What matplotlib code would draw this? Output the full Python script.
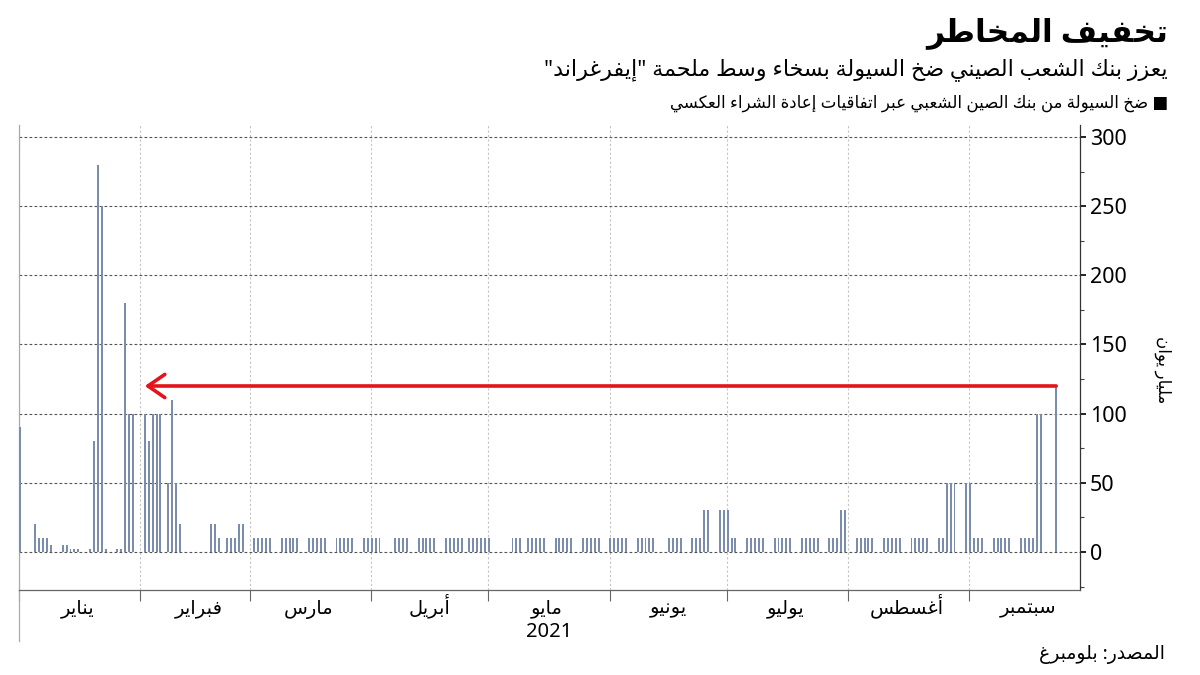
import numpy as np
import pandas as pd
import matplotlib
matplotlib.use('Agg')
import matplotlib.pyplot as plt
import matplotlib.dates as mdates
from matplotlib.ticker import MultipleLocator, FixedLocator, NullFormatter, FixedFormatter

# PBOC reverse repo injections, billion yuan, by day of month (2020-12 / 2021)
dec_days = [31]
dec_vals = [90]
jan_days = [4, 5, 6, 7, 8, 11, 12, 13, 14, 15, 18, 19, 20, 21, 22, 25, 26, 27, 28, 29]
jan_vals = [20, 10, 10, 10, 5, 5, 5, 2, 2, 2, 2, 80, 280, 250, 2, 2, 2, 180, 100, 100]
feb_days = [1, 2, 3, 4, 5, 7, 8, 9, 10, 18, 19, 20, 22, 23, 24, 25, 26]
feb_vals = [100, 80, 100, 100, 100, 50, 110, 50, 20, 20, 20, 10, 10, 10, 10, 20, 20]
mar_days = [1, 2, 3, 4, 5, 8, 9, 10, 11, 12, 15, 16, 17, 18, 19, 22, 23, 24, 25, 26, 29, 30, 31]
mar_vals = [10, 10, 10, 10, 10, 10, 10, 10, 10, 10, 10, 10, 10, 10, 10, 10, 10, 10, 10, 10, 10, 10, 10]
apr_days = [1, 2, 6, 7, 8, 9, 12, 13, 14, 15, 16, 19, 20, 21, 22, 23, 25, 26, 27, 28, 29, 30]
apr_vals = [10, 10, 10, 10, 10, 10, 10, 10, 10, 10, 10, 10, 10, 10, 10, 10, 10, 10, 10, 10, 10, 10]
may_days = [6, 7, 8, 10, 11, 12, 13, 14, 17, 18, 19, 20, 21, 24, 25, 26, 27, 28, 31]
may_vals = [10, 10, 10, 10, 10, 10, 10, 10, 10, 10, 10, 10, 10, 10, 10, 10, 10, 10, 10]
jun_days = [1, 2, 3, 4, 7, 8, 9, 10, 11, 15, 16, 17, 18, 21, 22, 23, 24, 25, 28, 29, 30]
jun_vals = [10, 10, 10, 10, 10, 10, 10, 10, 10, 10, 10, 10, 10, 10, 10, 10, 30, 30, 30, 30, 30]
jul_days = [1, 2, 5, 6, 7, 8, 9, 12, 13, 14, 15, 16, 19, 20, 21, 22, 23, 26, 27, 28, 29, 30]
jul_vals = [10, 10, 10, 10, 10, 10, 10, 10, 10, 10, 10, 10, 10, 10, 10, 10, 10, 10, 10, 10, 30, 30]
aug_days = [2, 3, 4, 5, 6, 9, 10, 11, 12, 13, 16, 17, 18, 19, 20, 23, 24, 25, 26, 27, 30, 31]
aug_vals = [10, 10, 10, 10, 10, 10, 10, 10, 10, 10, 10, 10, 10, 10, 10, 10, 10, 50, 50, 50, 50, 50]
sep_days = [1, 2, 3, 6, 7, 8, 9, 10, 13, 14, 15, 16, 17, 18, 22]
sep_vals = [10, 10, 10, 10, 10, 10, 10, 10, 10, 10, 10, 10, 100, 100, 120]

month_labels = ['يناير', 'فبراير', 'مارس', 'أبريل', 'مايو', 'يونيو', 'يوليو', 'أغسطس', 'سبتمبر']
year_label = '2021'
title = 'تخفيف المخاطر'
subtitle = 'يعزز بنك الشعب الصيني ضخ السيولة بسخاء وسط ملحمة "إيفرغراند"'
legend_label = 'ضخ السيولة من بنك الصين الشعبي عبر اتفاقيات إعادة الشراء العكسي'
unit_label = 'مليار يوان'
source = 'المصدر: بلومبرغ'

# --- Arabic shaping (matplotlib has no RTL layout) ---
# base code of presentation form, joining type: 0 none, 1 right only, 2 dual
AR = {'ء': (0xFE80, 0), 'آ': (0xFE81, 1), 'أ': (0xFE83, 1), 'ؤ': (0xFE85, 1), 'إ': (0xFE87, 1),
      'ئ': (0xFE89, 2), 'ا': (0xFE8D, 1), 'ب': (0xFE8F, 2), 'ة': (0xFE93, 1), 'ت': (0xFE95, 2),
      'ث': (0xFE99, 2), 'ج': (0xFE9D, 2), 'ح': (0xFEA1, 2), 'خ': (0xFEA5, 2), 'د': (0xFEA9, 1),
      'ذ': (0xFEAB, 1), 'ر': (0xFEAD, 1), 'ز': (0xFEAF, 1), 'س': (0xFEB1, 2), 'ش': (0xFEB5, 2),
      'ص': (0xFEB9, 2), 'ض': (0xFEBD, 2), 'ط': (0xFEC1, 2), 'ظ': (0xFEC5, 2), 'ع': (0xFEC9, 2),
      'غ': (0xFECD, 2), 'ف': (0xFED1, 2), 'ق': (0xFED5, 2), 'ك': (0xFED9, 2), 'ل': (0xFEDD, 2),
      'م': (0xFEE1, 2), 'ن': (0xFEE5, 2), 'ه': (0xFEE9, 2), 'و': (0xFEED, 1), 'ى': (0xFEEF, 1),
      'ي': (0xFEF1, 2)}
LAM_ALEF = {'آ': 0xFEF5, 'أ': 0xFEF7, 'إ': 0xFEF9, 'ا': 0xFEFB}


def ar(text):
    tokens = []
    i = 0
    while i < len(text):
        if text[i] == 'ل' and i + 1 < len(text) and text[i + 1] in LAM_ALEF:
            tokens.append(('LA', text[i + 1]))
            i += 2
        else:
            tokens.append(('C', text[i]))
            i += 1

    def kind(t):
        if t[0] == 'LA':
            return 1
        return AR[t[1]][1] if t[1] in AR else -1

    out = []
    for k, t in enumerate(tokens):
        prev_j = k > 0 and kind(tokens[k - 1]) == 2 and kind(t) >= 1
        next_j = k + 1 < len(tokens) and kind(t) == 2 and kind(tokens[k + 1]) >= 1
        if t[0] == 'LA':
            out.append(chr(LAM_ALEF[t[1]] + (1 if prev_j else 0)))
        elif t[1] in AR:
            base = AR[t[1]][0]
            off = 3 if (prev_j and next_j) else 1 if prev_j else 2 if next_j else 0
            out.append(chr(base + off))
        else:
            out.append(t[1])
    return ''.join(reversed(out))


def month_dates(year, month, days):
    return [pd.Timestamp(year, month, d) for d in days]


dates = (month_dates(2020, 12, dec_days) + month_dates(2021, 1, jan_days) + month_dates(2021, 2, feb_days)
         + month_dates(2021, 3, mar_days) + month_dates(2021, 4, apr_days) + month_dates(2021, 5, may_days)
         + month_dates(2021, 6, jun_days) + month_dates(2021, 7, jul_days) + month_dates(2021, 8, aug_days)
         + month_dates(2021, 9, sep_days))
values = dec_vals + jan_vals + feb_vals + mar_vals + apr_vals + may_vals + jun_vals + jul_vals + aug_vals + sep_vals

plt.rcParams['font.family'] = ['Noto Sans', 'DejaVu Sans']

fig = plt.figure(figsize=(12, 6.75), dpi=100)
ax = fig.add_axes([19 / 1200, 1 - 590 / 675, (1080 - 19) / 1200, (590 - 125) / 675])

# bars sit about a day after the operation date on the Bloomberg chart
x = mdates.date2num(pd.DatetimeIndex(dates) + pd.Timedelta(hours=28))
ax.bar(x, values, width=0.5, color='#7a8dae', zorder=3)

ax.set_xlim(mdates.date2num(pd.Timestamp(2021, 1, 1)), mdates.date2num(pd.Timestamp(2021, 9, 29, 6)))
ax.set_ylim(-27.5, 308.7)

# y axis on the right
ax.yaxis.tick_right()
ax.yaxis.set_major_locator(MultipleLocator(50))
ax.yaxis.set_minor_locator(MultipleLocator(25))
ax.tick_params(axis='y', which='major', length=4, width=1.4, color='#222', labelsize=15.5, pad=3)
ax.tick_params(axis='y', which='minor', length=3, width=0.8, color='#444')

# x axis: month boundaries as ticks, labels mid-month
month_starts = pd.date_range('2021-01-01', '2021-09-01', freq='MS')
mid_months = month_starts + pd.Timedelta(days=15)
ax.xaxis.set_major_locator(FixedLocator(mdates.date2num(month_starts)))
ax.xaxis.set_major_formatter(NullFormatter())
ax.xaxis.set_minor_locator(FixedLocator(mdates.date2num(mid_months)))
ax.xaxis.set_minor_formatter(FixedFormatter([ar(m) for m in month_labels]))
ax.tick_params(axis='x', which='major', length=8, width=0.8, color='#666')
ax.tick_params(axis='x', which='minor', length=0, labelsize=14, pad=17)
for lab in ax.xaxis.get_minorticklabels():
    lab.set_va('baseline')

ax.grid(axis='y', which='major', linestyle=(0, (2.5, 2)), color='#555', linewidth=0.8, zorder=1)
ax.grid(axis='x', which='major', linestyle=(0, (2, 2)), color='#c4c4c4', linewidth=0.8, zorder=1)

ax.spines['top'].set_visible(False)
ax.spines['left'].set_color('#aaaaaa')
ax.spines['right'].set_color('#333333')
ax.spines['bottom'].set_color('#666666')
for s in ['left', 'right', 'bottom']:
    ax.spines[s].set_linewidth(0.9)

# year separator below the axis
ax.plot([0, 0], [0, -0.11], transform=ax.transAxes, color='#aaaaaa', lw=0.9, clip_on=False)
ax.text(0.5, -0.068, year_label, transform=ax.transAxes, ha='center', va='top', fontsize=14.5)

# arrow from latest injection back to early February
feb_first = x[len(dec_vals) + len(jan_vals)]
ax.annotate('', xy=(feb_first, values[-1]), xytext=(x[-1], values[-1]),
            arrowprops=dict(arrowstyle='->,head_length=0.55,head_width=0.38', color='#e3141b',
                            lw=2.6, mutation_scale=22, shrinkA=0, shrinkB=0), zorder=4)

# texts
fig.text(1168 / 1200, 1 - 33 / 675, ar(title), ha='right', va='center', fontsize=22.5, fontweight='bold')
fig.text(1168 / 1200, 1 - 70 / 675, ar(subtitle), ha='right', va='center', fontsize=16)
fig.text(1168 / 1200, 1 - 103 / 675, ar(legend_label) + ' ■', ha='right', va='center', fontsize=12)
fig.text(1163 / 1200, 1 - 370 / 675, ar(unit_label), ha='center', va='center', rotation=-90, fontsize=12)
fig.text(1165 / 1200, 1 - 655 / 675, ar(source), ha='right', va='center', fontsize=13.5)

fig.savefig('out.png', dpi=100)
